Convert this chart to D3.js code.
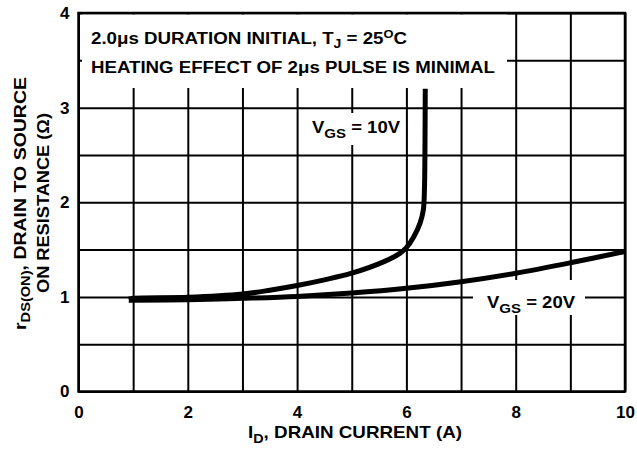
<!DOCTYPE html>
<html>
<head>
<meta charset="utf-8">
<script src="https://cdn.jsdelivr.net/npm/d3@7"></script>
<style>
  body { margin: 0; background: #fff; }
  text { font-family: "Liberation Sans", Arial, Helvetica, sans-serif; font-weight: bold; fill: #000; }
</style>
</head>
<body>
<script>
var width = 637;
var height = 449;
var marginLeft = 78.5;
var marginRight = 12;
var marginTop = 13;
var marginBottom = 57.5;

// grid and tick values
var xGridValues = [0, 1, 2, 3, 4, 5, 6, 7, 8, 9, 10];
var yGridValues = [0, 0.5, 1, 1.5, 2, 2.5, 3, 3.5, 4];
var xTickLabels = [0, 2, 4, 6, 8, 10];
var yTickLabels = [0, 1, 2, 3, 4];

// VGS = 10V curve (drain current A, on resistance ohm)
var vgs10Current    = [0.92, 1, 2, 3, 3.5, 4, 4.5, 5, 5.58, 5.88, 6.0, 6.13, 6.25, 6.31, 6.33, 6.34, 6.345];
var vgs10Resistance = [0.975, 0.985, 0.995, 1.03, 1.07, 1.12, 1.18, 1.25, 1.37, 1.46, 1.52, 1.63, 1.78, 1.92, 2.13, 2.6, 3.2];

// VGS = 20V curve
var vgs20Current    = [0.92, 1, 2, 3, 4, 5, 6, 7, 8, 9, 10];
var vgs20Resistance = [0.965, 0.965, 0.97, 0.985, 1.005, 1.04, 1.09, 1.16, 1.25, 1.36, 1.48];

var svg = d3.select("body")
            .append("svg")
            .attr("width", width)
            .attr("height", height);

var xScale = d3.scaleLinear()
      .domain([0, 10])
      .range([marginLeft, width - marginRight]);

var yScale = d3.scaleLinear()
      .domain([0, 4])
      .range([height - marginBottom, marginTop]);

var innerW = width - marginLeft - marginRight;
var innerH = height - marginTop - marginBottom;

// grid lines
svg.append("g")
    .attr("transform", `translate(0,${marginTop})`)
    .call(d3.axisBottom(xScale).tickValues(xGridValues).tickSize(innerH).tickFormat(""))
    .call(g => g.select(".domain").remove())
    .call(g => g.selectAll("line").attr("stroke", "#000").attr("stroke-width", 2));

svg.append("g")
    .attr("transform", `translate(${marginLeft},0)`)
    .call(d3.axisRight(yScale).tickValues(yGridValues).tickSize(innerW).tickFormat(""))
    .call(g => g.select(".domain").remove())
    .call(g => g.selectAll("line").attr("stroke", "#000").attr("stroke-width", 2));

// white boxes behind labels (they break the grid)
var boxes = [
  [82, 14.5, 507, 88],
  [305, 113, 402, 145],
  [473, 280, 585, 315]
];
svg.selectAll(".box")
    .data(boxes)
    .join("rect")
      .attr("x", d => d[0])
      .attr("y", d => d[1])
      .attr("width", d => d[2] - d[0])
      .attr("height", d => d[3] - d[1])
      .attr("fill", "#fff");

// frame
svg.append("rect")
    .attr("x", marginLeft)
    .attr("y", marginTop)
    .attr("width", innerW)
    .attr("height", innerH)
    .attr("fill", "none")
    .attr("stroke", "#000")
    .attr("stroke-width", 2.5);

// tick labels
svg.append("g")
    .attr("transform", `translate(0,${height - marginBottom})`)
    .call(d3.axisBottom(xScale).tickValues(xTickLabels).tickSize(0).tickPadding(14).tickFormat(d3.format("d")))
    .call(g => g.select(".domain").remove())
    .call(g => g.selectAll("text").attr("font-size", 17).attr("font-family", null));

svg.append("g")
    .attr("transform", `translate(${marginLeft},0)`)
    .call(d3.axisLeft(yScale).tickValues(yTickLabels).tickSize(0).tickPadding(9).tickFormat(d3.format("d")))
    .call(g => g.select(".domain").remove())
    .call(g => g.selectAll("text").attr("font-size", 17).attr("font-family", null));

// curves
var line = d3.line()
    .x(d => xScale(d[0]))
    .y(d => yScale(d[1]))
    .curve(d3.curveCatmullRom.alpha(0.5));

svg.append("path")
    .datum(d3.zip(vgs20Current, vgs20Resistance))
    .attr("fill", "none")
    .attr("stroke", "#000")
    .attr("stroke-width", 5)
    .attr("d", line);

svg.append("path")
    .datum(d3.zip(vgs10Current, vgs10Resistance))
    .attr("fill", "none")
    .attr("stroke", "#000")
    .attr("stroke-width", 5)
    .attr("d", line);

// annotation text
var t1 = svg.append("text")
    .attr("x", 91).attr("y", 43.5)
    .attr("font-size", 16)
    .attr("textLength", 316).attr("lengthAdjust", "spacingAndGlyphs");
t1.append("tspan").text("2.0\u03bcs DURATION INITIAL, T");
t1.append("tspan").attr("font-size", 12).attr("dy", 4).text("J");
t1.append("tspan").attr("dy", -4).text(" = 25");
t1.append("tspan").attr("font-size", 11).attr("dy", -6).text("O");
t1.append("tspan").attr("dy", 6).text("C");

svg.append("text")
    .attr("x", 91).attr("y", 72.5)
    .attr("font-size", 16)
    .attr("textLength", 404).attr("lengthAdjust", "spacingAndGlyphs")
    .text("HEATING EFFECT OF 2\u03bcs PULSE IS MINIMAL");

function vgsLabel(x, y, w, value) {
  var t = svg.append("text")
      .attr("x", x).attr("y", y)
      .attr("font-size", 16)
      .attr("textLength", w).attr("lengthAdjust", "spacingAndGlyphs");
  t.append("tspan").text("V");
  t.append("tspan").attr("font-size", 13).attr("dy", 5).text("GS");
  t.append("tspan").attr("dy", -5).text(" = " + value);
}
vgsLabel(312, 133, 88, "10V");
vgsLabel(487, 308, 88, "20V");

// axis titles
var xt = svg.append("text")
    .attr("x", 248).attr("y", 438)
    .attr("font-size", 17)
    .attr("textLength", 214).attr("lengthAdjust", "spacingAndGlyphs");
xt.append("tspan").text("I");
xt.append("tspan").attr("font-size", 13).attr("dy", 5).text("D");
xt.append("tspan").attr("dy", -5).text(", DRAIN CURRENT (A)");

var yt1 = svg.append("text")
    .attr("transform", "translate(25.5,330) rotate(-90)")
    .attr("font-size", 16)
    .attr("textLength", 253).attr("lengthAdjust", "spacingAndGlyphs");
yt1.append("tspan").text("r");
yt1.append("tspan").attr("font-size", 12).attr("dy", 4).text("DS(ON)");
yt1.append("tspan").attr("dy", -4).text(", DRAIN TO SOURCE");

svg.append("text")
    .attr("transform", "translate(49,293) rotate(-90)")
    .attr("font-size", 16)
    .attr("textLength", 180).attr("lengthAdjust", "spacingAndGlyphs")
    .text("ON RESISTANCE (\u03a9)");
</script>
</body>
</html>
